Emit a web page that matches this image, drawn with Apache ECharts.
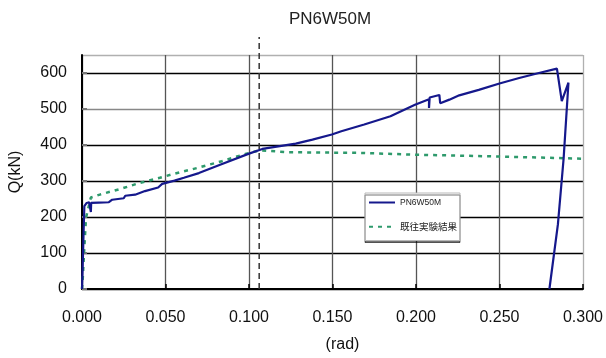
<!DOCTYPE html>
<html>
<head>
<meta charset="utf-8">
<script src="https://cdn.jsdelivr.net/npm/echarts@6/dist/echarts.min.js"></script>
<style>
  html, body { margin: 0; padding: 0; background: #fff; }
  #chart { width: 606px; height: 358px; }
</style>
</head>
<body>
<div id="chart"></div>
<script>
// Shear force Q (kN) against drift angle (rad)
const seriesNames = ['PN6W50M', '既往実験結果'];

// Test specimen PN6W50M: [rad, kN]
const testCurve = [
  [0, 0], [0.0004, 60], [0.0009, 150], [0.0014, 230], [0.0028, 239], [0.0043, 241],
  [0.0053, 214], [0.0055, 239], [0.0100, 240], [0.0161, 241], [0.0181, 248],
  [0.0250, 252], [0.0259, 259], [0.0318, 262], [0.0377, 272], [0.0456, 282],
  [0.0480, 292], [0.0554, 301], [0.0610, 309], [0.0700, 322], [0.0827, 345],
  [0.1000, 376], [0.1080, 389], [0.1280, 404], [0.1380, 415], [0.1390, 412],
  [0.1496, 429], [0.1553, 438], [0.1690, 457], [0.1847, 480], [0.1994, 512],
  [0.2078, 527], [0.2078, 503], [0.2082, 532], [0.2140, 539], [0.2145, 516],
  [0.2200, 526], [0.2259, 538], [0.2376, 553], [0.2500, 571], [0.2618, 586],
  [0.2736, 600], [0.2844, 612], [0.2873, 522], [0.2913, 573], [0.2884, 362],
  [0.2850, 180], [0.2799, 0]
];

// Earlier experiment result: [rad, kN]
const priorCurve = [
  [0, 0], [0.0004, 24], [0.0014, 115], [0.0024, 198], [0.0053, 254], [0.0112, 263],
  [0.0230, 278], [0.0348, 295], [0.0466, 309], [0.0535, 318], [0.0689, 336],
  [0.0837, 355], [0.0984, 376], [0.1063, 385], [0.1240, 380], [0.1670, 378],
  [0.2000, 373], [0.2500, 368], [0.3000, 362]
];

// Vertical reference line at the marked drift angle
const refAngle = 0.1061;
const refLine = [[refAngle, 0], [refAngle, 700]];

// Axis ranges and tick steps
const xMin = 0, xMax = 0.3, xStep = 0.05;
const yMin = 0, yMax = 650, yStep = 100;

const latin = '"Liberation Sans", Arial, sans-serif';
const cjk = '"Noto Sans CJK JP", "Liberation Sans", sans-serif';

const chart = echarts.init(document.getElementById('chart'));
chart.setOption({
  animation: false,
  backgroundColor: '#fff',
  title: {
    text: 'PN6W50M',
    left: 325,
    top: 6,
    textAlign: 'center',
    textStyle: { fontFamily: latin, fontSize: 17, fontWeight: 'normal', color: '#222' }
  },
  grid: { left: 76, right: 21, top: 55, bottom: 66, containLabel: false },
  legend: {
    data: seriesNames,
    orient: 'vertical',
    left: 365,
    top: 193,
    itemWidth: 26,
    itemHeight: 10,
    itemGap: 15,
    padding: [5, 3, 9, 3],
    backgroundColor: '#fff',
    borderColor: '#b8b8b8',
    borderWidth: 1,
    shadowColor: 'rgba(0,0,0,0.55)',
    shadowOffsetX: 0,
    shadowOffsetY: 2,
    shadowBlur: 0,
    // line samples only, no marker on them
    itemStyle: { opacity: 0, color: 'rgba(0,0,0,0)', borderWidth: 0 },
    formatter: name => name === '既往実験結果' ? '{cjk|' + name + '}' : name,
    textStyle: {
      fontFamily: latin, fontSize: 8.5, color: '#222',
      rich: { cjk: { fontFamily: cjk, fontSize: 9.5, color: '#222' } }
    }
  },
  xAxis: {
    type: 'value',
    min: xMin, max: xMax, interval: xStep,
    name: '(rad)',
    nameLocation: 'middle',
    nameGap: 48,
    nameTextStyle: { fontFamily: latin, fontSize: 16, color: '#111', padding: [0, 0, 0, 20] },
    axisLine: { show: true, onZero: false, lineStyle: { color: '#000', width: 2 } },
    axisTick: { show: true, inside: true, length: 5, lineStyle: { color: '#000', width: 1.5 } },
    axisLabel: {
      margin: 21, fontFamily: latin, fontSize: 16, color: '#111',
      formatter: v => v.toFixed(3)
    },
    splitLine: {
      show: true,
      lineStyle: { color: ['#555', '#555', '#555', '#555', '#555', '#555', '#b0b0b0'], width: 1.3 }
    }
  },
  yAxis: {
    type: 'value',
    min: yMin, max: yMax, interval: yStep,
    name: 'Q(kN)',
    nameLocation: 'middle',
    nameGap: 48,
    nameTextStyle: { fontFamily: latin, fontSize: 16, color: '#111', padding: [0, 0, 10, 0] },
    axisLine: { show: true, onZero: false, lineStyle: { color: '#000', width: 2 } },
    axisTick: { show: true, inside: true, length: 5, lineStyle: { color: '#777', width: 2 } },
    axisLabel: {
      margin: 15, fontFamily: latin, fontSize: 16, color: '#111',
      showMaxLabel: false
    },
    splitLine: {
      show: true,
      lineStyle: {
        color: ['#000', '#000', '#000', '#000', '#000', '#888', '#000', '#b0b0b0'],
        width: 1.3
      }
    }
  },
  series: [
    {
      name: seriesNames[1],
      type: 'line',
      data: priorCurve,
      showSymbol: false,
      symbol: 'none',
      z: 3,
      lineStyle: { color: '#2e9a6c', width: 2.5, type: [4, 5] },
      itemStyle: { color: '#2e9a6c' }
    },
    {
      name: seriesNames[0],
      type: 'line',
      data: testCurve,
      showSymbol: false,
      symbol: 'none',
      z: 4,
      lineStyle: { color: '#15188c', width: 2.2 },
      itemStyle: { color: '#15188c' }
    },
    {
      name: 'ref',
      type: 'line',
      data: refLine,
      showSymbol: false,
      symbol: 'none',
      clip: false,
      silent: true,
      z: 2,
      lineStyle: { color: '#333', width: 1.5, type: [6, 4] }
    }
  ]
});
</script>
</body>
</html>
